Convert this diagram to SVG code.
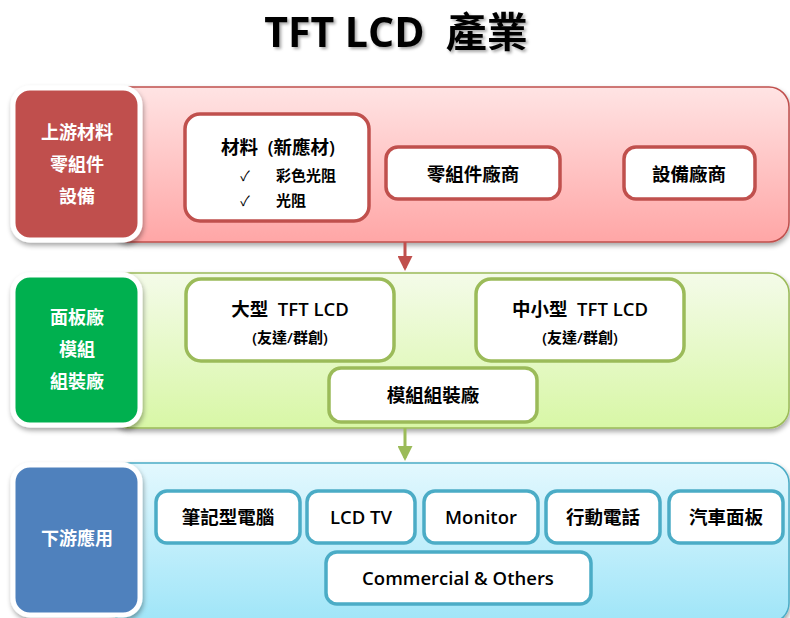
<svg xmlns="http://www.w3.org/2000/svg" width="790" height="618" viewBox="0 0 790 618">
<defs>
<linearGradient id="gRed" x1="0" y1="0" x2="0" y2="1"><stop offset="0" stop-color="#ffe4e4"/><stop offset="1" stop-color="#ffa6a6"/></linearGradient>
<linearGradient id="gGreen" x1="0" y1="0" x2="0" y2="1"><stop offset="0" stop-color="#f4fbe9"/><stop offset="1" stop-color="#d8f7a6"/></linearGradient>
<linearGradient id="gBlue" x1="0" y1="0" x2="0" y2="1"><stop offset="0" stop-color="#e3f8fe"/><stop offset="1" stop-color="#9fe5f8"/></linearGradient>
<filter id="sh" x="-10%" y="-10%" width="130%" height="130%"><feDropShadow dx="1" dy="3" stdDeviation="2.5" flood-color="#000" flood-opacity="0.35"/></filter>
<filter id="tsh" x="-10%" y="-20%" width="120%" height="150%"><feDropShadow dx="2" dy="2" stdDeviation="1.5" flood-color="#000" flood-opacity="0.35"/></filter>
<marker id="aRed" viewBox="0 0 10 10" refX="8" refY="5" markerWidth="5" markerHeight="5" orient="auto"><path d="M0,0 L10,5 L0,10 z" fill="#c0504d"/></marker>
<marker id="aGreen" viewBox="0 0 10 10" refX="8" refY="5" markerWidth="5" markerHeight="5" orient="auto"><path d="M0,0 L10,5 L0,10 z" fill="#9bbb59"/></marker>
</defs>
<style>
text{font-family:"Open Sans","Noto Sans CJK TC",sans-serif;text-anchor:middle;fill:#000;white-space:pre}
.band{stroke-width:1.5;filter:url(#sh)}
.lab{stroke:#fff;stroke-width:5;filter:url(#sh)}
.lt{fill:#fff;font-size:18px;font-weight:600}
.box{fill:#fff;stroke-width:3.5}
.r{stroke:#c0504d}.g{stroke:#9bbb59}.b{stroke:#4bacc6}
.bt{font-size:18.5px;font-weight:600}
.st{font-size:15px;font-weight:600}
.ck{font-size:14px;font-weight:400;fill:#000}
.conn{fill:none;stroke-width:3}
</style>
<text x="396" y="47" style="font-size:41px;font-weight:700" filter="url(#tsh)" xml:space="preserve">TFT LCD  產業</text>

<g id="band-upstream">
<rect class="band" x="110" y="87" width="679" height="155" rx="20" fill="url(#gRed)" stroke="#c0504d"/>
</g>
<g id="band-panel">
<rect class="band" x="110" y="273" width="679" height="155" rx="20" fill="url(#gGreen)" stroke="#9bbb59"/>
</g>
<g id="band-downstream">
<rect class="band" x="110" y="463" width="679" height="160" rx="20" fill="url(#gBlue)" stroke="#4bacc6"/>
</g>

<g id="connectors">
<line class="conn" x1="405" y1="242" x2="405" y2="268" stroke="#c0504d" marker-end="url(#aRed)"/>
<line class="conn" x1="405" y1="428" x2="405" y2="458" stroke="#9bbb59" marker-end="url(#aGreen)"/>
</g>

<g id="label-upstream">
<rect class="lab" x="13" y="88" width="127" height="152" rx="17" fill="#c0504d"/>
<text class="lt" x="77" y="139">上游材料</text>
<text class="lt" x="77" y="171">零組件</text>
<text class="lt" x="77" y="203">設備</text>
</g>
<g id="materials">
<rect class="box r" x="185" y="114" width="184" height="107" rx="15"/>
<text class="bt" x="278" y="154" xml:space="preserve">材料  (新應材)</text>
<text class="ck" x="245" y="181">✓</text>
<text class="st" x="276" y="181" style="text-anchor:start">彩色光阻</text>
<text class="ck" x="245" y="206">✓</text>
<text class="st" x="276" y="206" style="text-anchor:start">光阻</text>
</g>
<g id="components">
<rect class="box r" x="386" y="147" width="174" height="52" rx="12"/>
<text class="bt" x="473" y="181">零組件廠商</text>
</g>
<g id="equipment">
<rect class="box r" x="624" y="147" width="131" height="52" rx="12"/>
<text class="bt" x="689" y="181">設備廠商</text>
</g>

<g id="label-panel">
<rect class="lab" x="13" y="275" width="127" height="150" rx="17" fill="#00b050"/>
<text class="lt" x="77" y="324">面板廠</text>
<text class="lt" x="77" y="356">模組</text>
<text class="lt" x="77" y="388">組裝廠</text>
</g>
<g id="large-tft">
<rect class="box g" x="186" y="279" width="208" height="82" rx="15"/>
<text class="bt" x="290" y="316" xml:space="preserve">大型  TFT LCD</text>
<text class="st" x="290" y="343">(友達/群創)</text>
</g>
<g id="small-tft">
<rect class="box g" x="476" y="279" width="208" height="82" rx="15"/>
<text class="bt" x="580" y="316" xml:space="preserve">中小型  TFT LCD</text>
<text class="st" x="580" y="343">(友達/群創)</text>
</g>
<g id="module-assembly">
<rect class="box g" x="329" y="368" width="208" height="54" rx="12"/>
<text class="bt" x="433" y="402">模組組裝廠</text>
</g>

<g id="label-downstream">
<rect class="lab" x="13" y="465" width="127" height="150" rx="17" fill="#4f81bd"/>
<text class="lt" x="77" y="545">下游應用</text>
</g>
<g id="notebook">
<rect class="box b" x="156" y="491" width="144" height="52" rx="11"/>
<text class="bt" x="228" y="524">筆記型電腦</text>
</g>
<g id="lcd-tv">
<rect class="box b" x="307" y="491" width="108" height="52" rx="11"/>
<text class="bt" x="361" y="524">LCD TV</text>
</g>
<g id="monitor">
<rect class="box b" x="424" y="491" width="114" height="52" rx="11"/>
<text class="bt" x="481" y="524">Monitor</text>
</g>
<g id="mobile">
<rect class="box b" x="546" y="491" width="114" height="52" rx="11"/>
<text class="bt" x="603" y="524">行動電話</text>
</g>
<g id="auto-panel">
<rect class="box b" x="669" y="491" width="114" height="52" rx="11"/>
<text class="bt" x="726" y="524">汽車面板</text>
</g>
<g id="commercial">
<rect class="box b" x="326" y="552" width="265" height="52" rx="11"/>
<text class="bt" x="458" y="585">Commercial &amp; Others</text>
</g>
</svg>
